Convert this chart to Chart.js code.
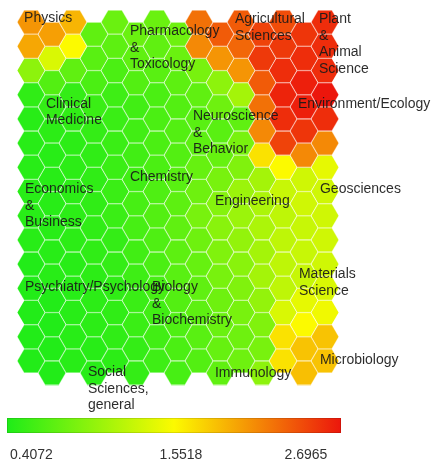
<!DOCTYPE html>
<html>
<head>
<meta charset="utf-8">
<script src="https://cdn.jsdelivr.net/npm/chart.js@4.4.1/dist/chart.umd.min.js"></script>
<style>
  html, body { margin: 0; padding: 0; background: #fff; }
  #wrap { width: 436px; height: 461px; }
</style>
</head>
<body>
<div id="wrap"><canvas id="som" width="436" height="461"></canvas></div>
<script>
// SOM cell values, one array per grid row, 15 columns each
const cellRows = [
  [2.06, 2.01, 1.90, 0.75, 0.80, 0.80, 0.80, 0.82, 2.24, 2.35, 2.35, 2.47, 2.42, 2.54, 2.58],
  [1.97, 1.37, 1.55, 0.71, 0.73, 0.75, 0.75, 0.80, 2.12, 2.06, 2.29, 2.52, 2.52, 2.58, 2.58],
  [0.98, 0.68, 0.75, 0.64, 0.64, 0.68, 0.71, 0.73, 0.87, 0.98, 2.06, 2.35, 2.58, 2.65, 2.58],
  [0.50, 0.52, 0.52, 0.55, 0.57, 0.59, 0.64, 0.68, 0.75, 0.82, 1.10, 2.24, 2.63, 2.65, 2.70],
  [0.46, 0.48, 0.50, 0.52, 0.55, 0.59, 0.64, 0.68, 0.71, 0.71, 0.75, 2.12, 2.58, 2.54, 2.58],
  [0.46, 0.46, 0.48, 0.50, 0.55, 0.59, 0.64, 0.68, 0.73, 0.78, 0.87, 1.67, 2.47, 2.12, 2.12],
  [0.46, 0.46, 0.48, 0.50, 0.55, 0.59, 0.64, 0.71, 0.78, 0.87, 0.91, 1.10, 1.55, 1.32, 1.44],
  [0.46, 0.46, 0.48, 0.50, 0.55, 0.62, 0.66, 0.73, 0.82, 0.94, 1.05, 1.14, 1.28, 1.32, 1.32],
  [0.46, 0.46, 0.48, 0.50, 0.55, 0.62, 0.68, 0.75, 0.87, 0.96, 1.05, 1.14, 1.23, 1.28, 1.32],
  [0.46, 0.46, 0.48, 0.50, 0.52, 0.59, 0.66, 0.73, 0.82, 0.91, 1.01, 1.10, 1.23, 1.28, 1.32],
  [0.43, 0.46, 0.46, 0.48, 0.52, 0.57, 0.64, 0.71, 0.78, 0.87, 0.96, 1.10, 1.23, 1.28, 1.32],
  [0.43, 0.43, 0.46, 0.48, 0.50, 0.55, 0.62, 0.68, 0.75, 0.82, 0.91, 1.01, 1.23, 1.44, 1.37],
  [0.43, 0.43, 0.46, 0.48, 0.50, 0.55, 0.59, 0.66, 0.73, 0.80, 0.87, 0.91, 1.37, 1.55, 1.49],
  [0.43, 0.43, 0.46, 0.46, 0.50, 0.52, 0.59, 0.64, 0.71, 0.78, 0.82, 0.87, 1.67, 1.83, 1.83],
  [0.43, 0.43, 0.46, 0.46, 0.48, 0.52, 0.57, 0.62, 0.68, 0.75, 0.82, 0.98, 1.67, 1.85, 1.83]
];

// cluster names, one entry per label (lines)
const clusterNames = [
  ['Physics'],
  ['Pharmacology', '&', 'Toxicology'],
  ['Agricultural', 'Sciences'],
  ['Plant', '&', 'Animal', 'Science'],
  ['Environment/Ecology'],
  ['Clinical', 'Medicine'],
  ['Neuroscience', '&', 'Behavior'],
  ['Chemistry'],
  ['Economics', '&', 'Business'],
  ['Engineering'],
  ['Geosciences'],
  ['Materials', 'Science'],
  ['Psychiatry/Psychology'],
  ['Biology', '&', 'Biochemistry'],
  ['Social', 'Sciences,', 'general'],
  ['Immunology'],
  ['Microbiology']
];

const colorbarTicks = ['0.4072', '1.5518', '2.6965'];
const valueMin = 0.4072;
const valueMax = 2.6965;

// where each label starts, in grid units (column, row)
const labelAnchors = [
  [-0.33, -0.17], [4.71, 0.37], [9.71, -0.13], [13.71, -0.13], [12.71, 3.38],
  [0.71, 3.38], [7.71, 3.88], [4.71, 6.40], [-0.29, 6.90], [8.76, 7.39],
  [13.76, 6.90], [12.76, 10.41], [-0.29, 10.95], [5.76, 10.95], [2.71, 14.46],
  [8.76, 14.50], [13.76, 13.96]
];

const colorStops = [
  [0, [30, 236, 24]],
  [0.5, [252, 250, 0]],
  [1, [236, 22, 12]]
];

function colorFor(v) {
  let t = (v - valueMin) / (valueMax - valueMin);
  t = Math.max(0, Math.min(1, t));
  for (let i = 1; i < colorStops.length; i++) {
    const [t0, c0] = colorStops[i - 1];
    const [t1, c1] = colorStops[i];
    if (t <= t1) {
      const f = (t - t0) / (t1 - t0);
      const c = c0.map((a, k) => Math.round(a + (c1[k] - a) * f));
      return `rgb(${c[0]},${c[1]},${c[2]})`;
    }
  }
  return 'rgb(236,22,12)';
}

// flat-top hexagon sprites, cached per colour
const spriteCache = {};
function hexSprite(color) {
  if (spriteCache[color]) return spriteCache[color];
  const c = document.createElement('canvas');
  c.width = 28;
  c.height = 25;
  const g = c.getContext('2d');
  g.beginPath();
  for (let i = 0; i < 6; i++) {
    const a = Math.PI / 3 * i;
    const x = 14 + 13.6 * Math.cos(a);
    const y = 12.5 + 13.6 * Math.sin(a);
    if (i === 0) g.moveTo(x, y); else g.lineTo(x, y);
  }
  g.closePath();
  g.fillStyle = color;
  g.fill();
  spriteCache[color] = c;
  return c;
}

const cells = [];
cellRows.forEach((row, r) => {
  row.forEach((v, c) => {
    cells.push({ x: c, y: r + (c % 2 ? 0.5 : 0), v: v });
  });
});

const labelPlugin = {
  id: 'clusterLabels',
  afterDatasetsDraw(chart) {
    const g = chart.ctx;
    const xs = chart.scales.x;
    const ys = chart.scales.y;
    g.save();
    g.font = '14px "Liberation Sans", Arial, sans-serif';
    g.fillStyle = 'rgba(25,25,25,0.92)';
    g.textAlign = 'left';
    g.textBaseline = 'middle';
    clusterNames.forEach((lines, i) => {
      const px = xs.getPixelForValue(labelAnchors[i][0]);
      const py = ys.getPixelForValue(labelAnchors[i][1]);
      lines.forEach((line, k) => g.fillText(line, px, py + k * 16.7));
    });
    g.restore();
  }
};

const colorbarPlugin = {
  id: 'colorbar',
  afterDraw(chart) {
    const g = chart.ctx;
    const x0 = 7, x1 = 341, y0 = 418, h = 15;
    const grad = g.createLinearGradient(x0, 0, x1, 0);
    colorStops.forEach(([t, c]) => grad.addColorStop(t, `rgb(${c[0]},${c[1]},${c[2]})`));
    g.save();
    g.fillStyle = grad;
    g.fillRect(x0, y0, x1 - x0, h);
    g.strokeStyle = 'rgba(0,0,0,0.12)';
    g.lineWidth = 1;
    g.strokeRect(x0 + 0.5, y0 + 0.5, x1 - x0 - 1, h - 1);
    g.font = '14px "Liberation Sans", Arial, sans-serif';
    g.fillStyle = '#333';
    g.textBaseline = 'middle';
    const tickPos = [[10, 'left'], [181, 'center'], [306, 'center']];
    colorbarTicks.forEach((txt, i) => {
      g.textAlign = tickPos[i][1];
      g.fillText(txt, tickPos[i][0], 455);
    });
    g.restore();
  }
};

const ctx = document.getElementById('som').getContext('2d');
new Chart(ctx, {
  type: 'scatter',
  data: {
    datasets: [{
      data: cells,
      pointStyle: (c) => (c.raw ? hexSprite(colorFor(c.raw.v)) : 'circle'),
      radius: 14,
      hoverRadius: 14,
      clip: false
    }]
  },
  options: {
    responsive: false,
    animation: false,
    devicePixelRatio: 1,
    events: [],
    layout: { padding: 0, autoPadding: false },
    plugins: {
      legend: { display: false },
      tooltip: { enabled: false }
    },
    scales: {
      x: { type: 'linear', display: false, min: -31 / 21, max: (436 - 31) / 21 },
      y: { type: 'linear', display: false, reverse: true, min: -22.1 / 24.2, max: (461 - 22.1) / 24.2 }
    }
  },
  plugins: [labelPlugin, colorbarPlugin]
});
</script>
</body>
</html>
